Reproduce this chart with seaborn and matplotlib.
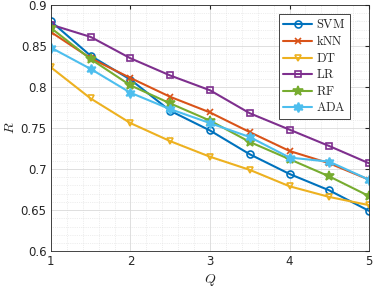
import numpy as np
import pandas as pd
import matplotlib
matplotlib.use("Agg")
import matplotlib.pyplot as plt
from matplotlib.ticker import MultipleLocator, FuncFormatter
import seaborn as sns

Q = [1, 1.5, 2, 2.5, 3, 3.5, 4, 4.5, 5]
svm = [0.880, 0.838, 0.809, 0.771, 0.747, 0.718, 0.694, 0.674, 0.649]
knn = [0.867, 0.835, 0.811, 0.788, 0.769, 0.745, 0.722, 0.707, 0.687]
dt = [0.824, 0.786, 0.756, 0.734, 0.715, 0.699, 0.679, 0.666, 0.656]
lr = [0.876, 0.861, 0.835, 0.814, 0.796, 0.768, 0.748, 0.728, 0.707]
rf = [0.872, 0.834, 0.802, 0.780, 0.759, 0.733, 0.712, 0.691, 0.667]
ada = [0.848, 0.822, 0.793, 0.773, 0.756, 0.739, 0.714, 0.709, 0.687]

names = ["SVM", "kNN", "DT", "LR", "RF", "ADA"]
series = [svm, knn, dt, lr, rf, ada]
colors = ["#0072BD", "#D95319", "#EDB120", "#7E2F8E", "#77AC30", "#4DBEEE"]
markers = ["o", "x", "v", "s", "*", (6, 1, 0)]
msizes = [5, 4, 5, 4, 7, 7]
filled = [False, False, False, False, True, True]

sns.set_style("white")
plt.rcParams["mathtext.fontset"] = "cm"
plt.rcParams["font.family"] = ["DejaVu Sans"]

fig = plt.figure(figsize=(3.74, 2.89), dpi=100)
ax = fig.add_axes([0.136, 0.131, 0.851, 0.852])

for name, vals, c, m, ms, f in zip(names, series, colors, markers, msizes, filled):
    df = pd.DataFrame({"Q": Q, "R": vals})
    sns.lineplot(data=df, x="Q", y="R", ax=ax, color=c, marker=m, markersize=ms,
                 markerfacecolor=c if f else "none",
                 markeredgecolor=c, markeredgewidth=1.2, linewidth=1.5,
                 label=r"$\mathrm{%s}$" % name)

ax.set_xlim(1, 5)
ax.set_ylim(0.6, 0.9)
ax.xaxis.set_major_locator(MultipleLocator(1))
ax.xaxis.set_minor_locator(MultipleLocator(0.2))
ax.yaxis.set_major_locator(MultipleLocator(0.05))
ax.yaxis.set_minor_locator(MultipleLocator(0.01))
ax.yaxis.set_major_formatter(FuncFormatter(lambda v, p: f"{v:.2f}".rstrip("0").rstrip(".")))
ax.grid(which="major", color="#d9d9d9", linewidth=0.6)
ax.grid(which="minor", color="#dedede", linewidth=0.5, linestyle=":")
ax.tick_params(which="both", direction="in", top=True, right=True, labelsize=8.5,
               colors="#262626", length=3, pad=3)
ax.tick_params(which="minor", length=0)
for s in ax.spines.values():
    s.set_color("#262626")
    s.set_linewidth(0.6)
ax.set_xlabel(r"$Q$", fontsize=10)
ax.set_ylabel(r"$R$", fontsize=10)
ax.xaxis.set_label_coords(0.5, -0.085)
ax.yaxis.set_label_coords(-0.105, 0.5)

leg = ax.legend(loc="upper right", bbox_to_anchor=(0.94, 0.965), fontsize=9,
                frameon=True, fancybox=False, edgecolor="#262626", framealpha=1,
                handlelength=2.3, borderpad=0.35, labelspacing=0.28, handletextpad=0.3,
                borderaxespad=0.0)
leg.get_frame().set_linewidth(0.6)

fig.savefig("out.png", dpi=100)
